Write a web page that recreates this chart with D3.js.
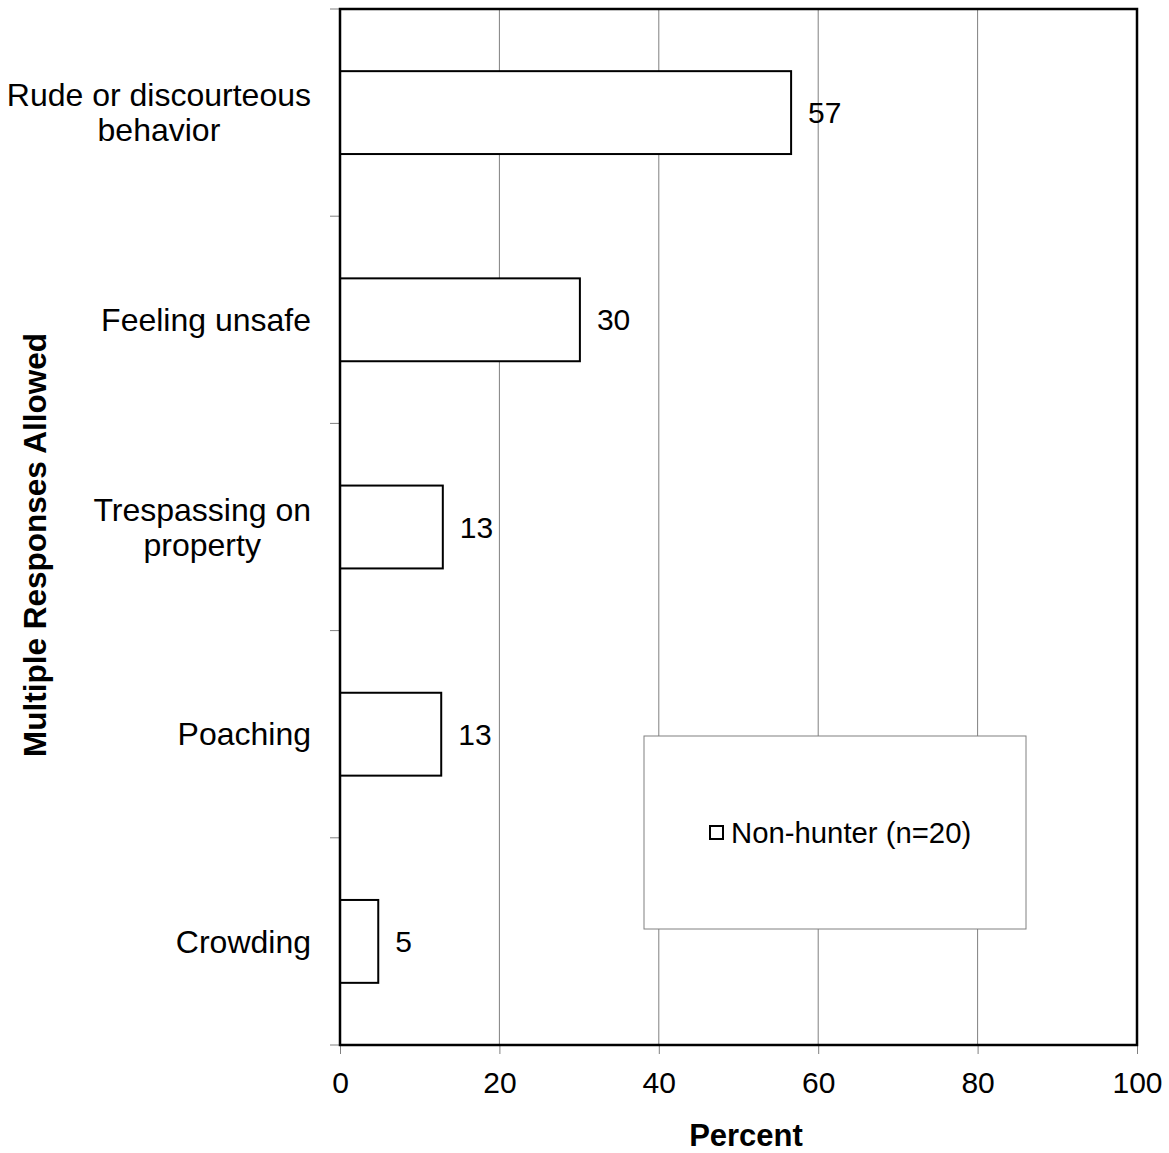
<!DOCTYPE html>
<html><head><meta charset="utf-8">
<script src="https://cdn.jsdelivr.net/npm/d3@7"></script>
<style>body{margin:0;background:#fff}svg{display:block}text{font-family:"Liberation Sans",Arial,sans-serif}</style>
</head><body>
<script>
const categories = [["Rude or discourteous","behavior"],["Feeling unsafe"],["Trespassing on","property"],["Poaching"],["Crowding"]];
const values = [56.6, 30.1, 12.9, 12.7, 4.8];
const valueLabels = ["57","30","13","13","5"];
const xTicks = [0,20,40,60,80,100];
const seriesName = "Non-hunter (n=20)";

const W=1169,H=1153;
const m={l:340,r:1137,t:9,b:1045};
const svg=d3.select("body").append("svg").attr("width",W).attr("height",H);
const x=d3.scaleLinear().domain([0,100]).range([m.l,m.r]);
const y=d3.scaleBand().domain(d3.range(categories.length)).range([m.t,m.b]).paddingInner(0.6).paddingOuter(0.3);
const yb=d3.scaleBand().domain(d3.range(categories.length)).range([m.t,m.b]);

// gridlines
svg.append("g").selectAll("line").data(xTicks.slice(1,-1)).join("line")
 .attr("x1",d=>x(d)).attr("x2",d=>x(d)).attr("y1",m.t).attr("y2",m.b)
 .attr("stroke","#808080").attr("stroke-width",1);

// x axis
const xa=svg.append("g").attr("transform",`translate(0,${m.b})`)
 .call(d3.axisBottom(x).tickValues(xTicks).tickSize(9).tickPadding(18));
xa.select(".domain").remove();
xa.selectAll("line").attr("stroke","#808080");
xa.selectAll("text").attr("font-size",30).attr("fill","#000").attr("font-family","Liberation Sans, Arial, sans-serif");

// y ticks at band boundaries
const bounds=d3.range(categories.length+1).map(i=>i===categories.length?m.b:yb(i));
svg.append("g").selectAll("line").data(bounds).join("line")
 .attr("x1",m.l-10).attr("x2",m.l).attr("y1",d=>d).attr("y2",d=>d)
 .attr("stroke","#808080").attr("stroke-width",1);

// bars
svg.append("g").selectAll("rect").data(values).join("rect")
 .attr("x",x(0)).attr("y",(d,i)=>y(i)).attr("width",d=>x(d)-x(0)).attr("height",y.bandwidth())
 .attr("fill","#fff").attr("stroke","#000").attr("stroke-width",2);

// value labels
svg.append("g").selectAll("text").data(values).join("text")
 .attr("x",d=>x(d)+17).attr("y",(d,i)=>y(i)+y.bandwidth()/2).attr("dy","0.35em")
 .attr("font-size",30).text((d,i)=>valueLabels[i]);

// frame
svg.append("rect").attr("x",m.l).attr("y",m.t).attr("width",m.r-m.l).attr("height",m.b-m.t)
 .attr("fill","none").attr("stroke","#000").attr("stroke-width",2.5);

// category labels
const lh=35;
categories.forEach((lines,i)=>{
  const cy=yb(i)+yb.bandwidth()/2;
  const g=svg.append("g");
  const tmp=lines.map((s,j)=>g.append("text").attr("font-size",32).attr("text-anchor","middle")
    .attr("y",cy+(j-(lines.length-1)/2)*lh).attr("dy","0.35em").text(s));
  const wmax=d3.max(tmp,t=>t.node().getComputedTextLength());
  tmp.forEach(t=>t.attr("x",311-wmax/2));
});

// axis titles
svg.append("text").attr("x",746).attr("y",1146).attr("text-anchor","middle")
 .attr("font-size",31).attr("font-weight","bold").text("Percent");
svg.append("text").attr("transform",`translate(46,545) rotate(-90)`).attr("text-anchor","middle")
 .attr("font-size",31.5).attr("font-weight","bold").text("Multiple Responses Allowed");

// legend
const lg=svg.append("g");
lg.append("rect").attr("x",644).attr("y",736).attr("width",382).attr("height",193)
 .attr("fill","#fff").attr("stroke","#808080").attr("stroke-width",1);
lg.append("rect").attr("x",710).attr("y",826).attr("width",13).attr("height",13)
 .attr("fill","#fff").attr("stroke","#000").attr("stroke-width",2);
lg.append("text").attr("x",731).attr("y",833).attr("dy","0.35em").attr("font-size",29.3).text(seriesName);
</script>
</body></html>
